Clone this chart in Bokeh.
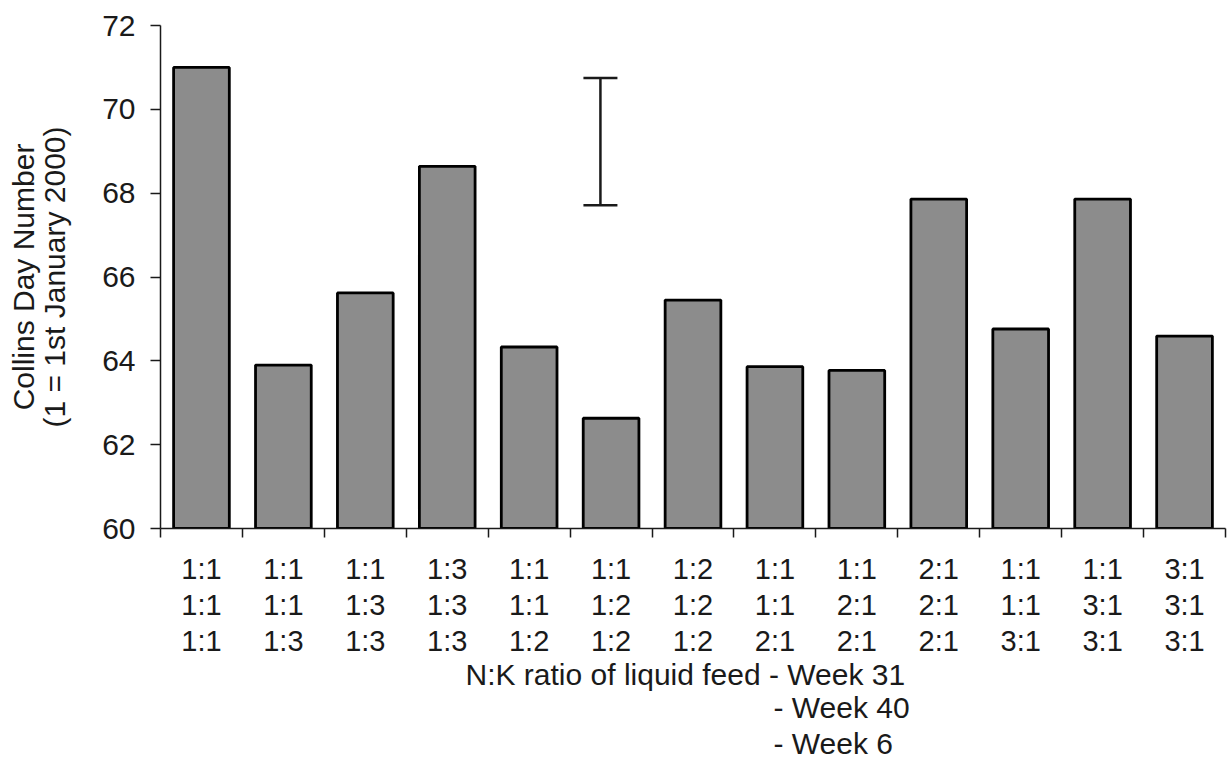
from bokeh.plotting import figure
from bokeh.models import (FixedTicker, Whisker, ColumnDataSource, TeeHead,
                          Range1d, Title)
from bokeh.embed import file_html
from bokeh.resources import INLINE

# N:K ratio of the liquid feed in each of the three feeding periods
week31 = ["1:1", "1:1", "1:1", "1:3", "1:1", "1:1", "1:2", "1:1", "1:1", "2:1", "1:1", "1:1", "3:1"]
week40 = ["1:1", "1:1", "1:3", "1:3", "1:1", "1:2", "1:2", "1:1", "2:1", "2:1", "1:1", "3:1", "3:1"]
week6 = ["1:1", "1:3", "1:3", "1:3", "1:2", "1:2", "1:2", "2:1", "2:1", "2:1", "3:1", "3:1", "3:1"]

# Collins day number for each treatment
day_number = [71.0, 63.9, 65.62, 68.64, 64.33, 62.63, 65.45, 63.86, 63.77, 67.86, 64.76, 67.86, 64.59]

# LSD bar
lsd_position = 5.37
lsd_lower = 67.71
lsd_upper = 70.75

y_ticks = [60, 62, 64, 66, 68, 70, 72]

FONT = "Liberation Sans"
INK = "#1a1a1a"

n = len(day_number)
centres = [i + 0.5 for i in range(n)]
bounds = [float(i) for i in range(n + 1)]

p = figure(width=1228, height=774, output_backend="svg", toolbar_location=None,
           x_range=Range1d(0, n), y_range=Range1d(60, 72),
           min_border_left=160, min_border_right=3, min_border_top=25,
           min_border_bottom=246)
p.outline_line_color = None
p.grid.visible = False
p.background_fill_color = "white"

bars = ColumnDataSource(dict(x=centres, top=day_number))
p.vbar(x="x", top="top", bottom=60, width=0.68, source=bars,
       fill_color="#8c8c8c", line_color="black", line_width=2.8)

lsd = ColumnDataSource(dict(base=[lsd_position], lower=[lsd_lower], upper=[lsd_upper]))
p.add_layout(Whisker(base="base", lower="lower", upper="upper", source=lsd,
                     dimension="height", line_color=INK, line_width=2.5,
                     upper_head=TeeHead(size=34, line_width=2.5, line_color=INK),
                     lower_head=TeeHead(size=34, line_width=2.5, line_color=INK)))

# x axis: tick marks between bars, three-line treatment labels under each bar
xa = p.xaxis[0]
xa.ticker = FixedTicker(ticks=centres, minor_ticks=bounds)
xa.major_label_overrides = {c: f"{a}\n{b}\n{w}" for c, a, b, w in zip(centres, week31, week40, week6)}
xa.major_tick_line_color = None
xa.major_tick_out = 0
xa.minor_tick_in = 0
xa.minor_tick_out = 9
xa.minor_tick_line_color = INK
xa.minor_tick_line_width = 1.5
xa.axis_line_color = INK
xa.axis_line_width = 1.5
xa.major_label_text_font = FONT
xa.major_label_text_font_size = "29px"
xa.major_label_text_color = INK
xa.major_label_standoff = 15
xa.major_label_text_line_height = 1.13

ya = p.yaxis[0]
ya.ticker = FixedTicker(ticks=y_ticks, minor_ticks=[])
ya.major_tick_in = 0
ya.major_tick_out = 10
ya.major_tick_line_color = INK
ya.major_tick_line_width = 1.5
ya.axis_line_color = INK
ya.axis_line_width = 1.5
ya.major_label_text_font = FONT
ya.major_label_text_font_size = "30px"
ya.major_label_text_color = INK
ya.major_label_standoff = 15
ya.axis_label = "Collins Day Number\n(1 = 1st January 2000)"
ya.axis_label_text_font = FONT
ya.axis_label_text_font_size = "30px"
ya.axis_label_text_font_style = "normal"
ya.axis_label_text_color = INK
ya.axis_label_text_line_height = 0.95
ya.axis_label_standoff = 28

# x axis title, with the feeding periods stacked under one another
title_lines = [("N:K ratio of liquid feed - Week 31", 305, -7),
               ("- Week 40", 613, 2),
               ("- Week 6", 613, 0)]
for text, offset, standoff in title_lines:
    p.add_layout(Title(text=text, align="left", offset=offset, standoff=standoff,
                       text_font=FONT, text_font_size="30px", text_font_style="normal",
                       text_color=INK), "below")

open("out.html", "w").write(file_html(p, INLINE))
